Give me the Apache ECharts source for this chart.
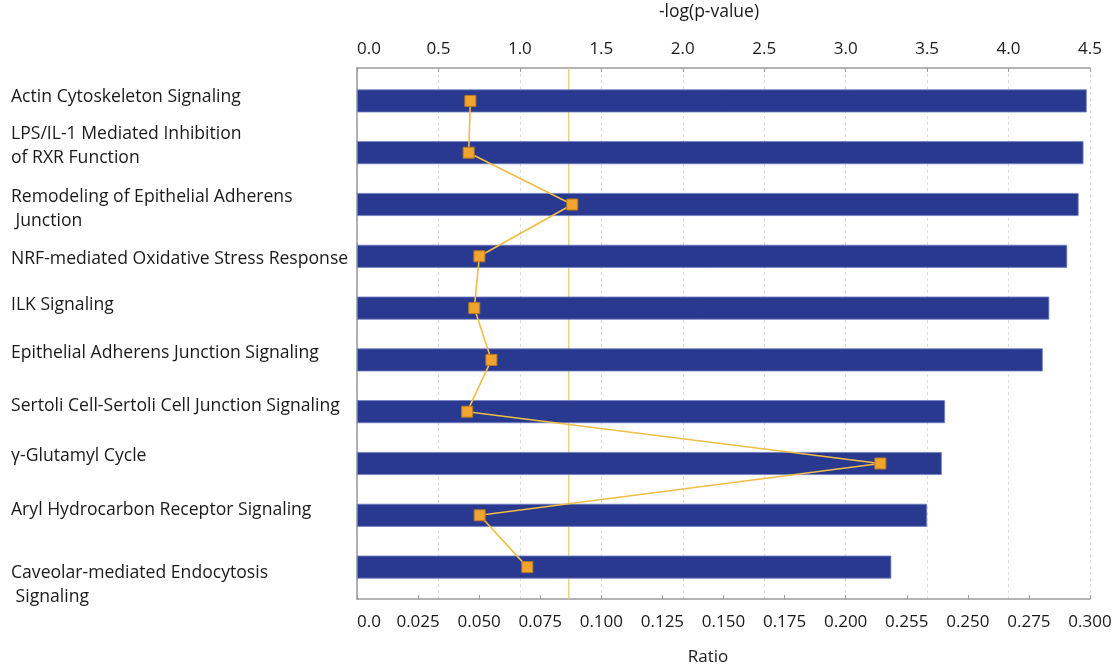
<!DOCTYPE html>
<html>
<head>
<meta charset="utf-8">
<script src="https://cdn.jsdelivr.net/npm/echarts@6/dist/echarts.min.js"></script>
<style>
  html, body { margin: 0; padding: 0; background: #ffffff; }
  #chart { width: 1116px; height: 664px; }
</style>
</head>
<body>
<div id="chart"></div>
<script>
// ---- data ----
const categories = [
  'Actin Cytoskeleton Signaling',
  'LPS/IL-1 Mediated Inhibition\nof RXR Function',
  'Remodeling of Epithelial Adherens\n Junction',
  'NRF-mediated Oxidative Stress Response',
  'ILK Signaling',
  'Epithelial Adherens Junction Signaling',
  'Sertoli Cell-Sertoli Cell Junction Signaling',
  'γ-Glutamyl Cycle',
  'Aryl Hydrocarbon Receptor Signaling',
  'Caveolar-mediated Endocytosis\n Signaling'
];
const negLogP = [4.48, 4.46, 4.43, 4.36, 4.25, 4.21, 3.61, 3.59, 3.50, 3.28];
const ratio = [0.0464, 0.0457, 0.0881, 0.0501, 0.0480, 0.0550, 0.0451, 0.2142, 0.0502, 0.0697];
const threshold = 1.3;
const topTicks = ['0.0','0.5','1.0','1.5','2.0','2.5','3.0','3.5','4.0','4.5'];
const ratioTicks = ['0.0','0.025','0.050','0.075','0.100','0.125','0.150','0.175','0.200','0.255','0.250','0.275','0.300'];

// ---- label vertical nudges (style only, px; negative = up) ----
const labelShift = [-4, -6.5, 4.5, 3, -3, -7, -6, -8, -5, 18];

const FONT = 'Open Sans';
const TXT = '#1a1a1a';
const AXIS = '#9a9a9a';
const LABEL_SIZE = 17.6;

const rich = { t: { fontSize: LABEL_SIZE, lineHeight: 24, color: TXT, fontFamily: FONT } };
labelShift.forEach((s, i) => {
  const h = Math.max(1, Math.abs(s) * 2);
  rich['sp' + i] = { fontSize: 1, height: h, lineHeight: h };
});

const chart = echarts.init(document.getElementById('chart'), null, { renderer: 'canvas' });
chart.setOption({
  animation: false,
  backgroundColor: '#ffffff',
  textStyle: { fontFamily: FONT },
  grid: [
    { left: 357, right: 26, top: 75, bottom: 71, containLabel: false, outerBoundsMode: 'none' },
    { left: 357, right: 26, top: 68, bottom: 65, containLabel: false, outerBoundsMode: 'none' }
  ],
  graphic: [
    { type: 'text', x: 709, y: 3, style: { text: '-log(p-value)', fill: TXT, font: '17.5px "Open Sans"', textAlign: 'center' } },
    { type: 'text', x: 708, y: 649, style: { text: 'Ratio', fill: TXT, font: '17px "Open Sans"', textAlign: 'center' } }
  ],
  xAxis: [
    {
      type: 'value', gridIndex: 0, position: 'top', offset: 7,
      min: 0, max: 4.5, interval: 0.5,
      axisLine: { show: true, lineStyle: { color: AXIS, width: 1.5 } },
      axisTick: { show: true, inside: true, length: 4, lineStyle: { color: AXIS } },
      axisLabel: { color: TXT, fontSize: 17, fontFamily: FONT, margin: 10, alignMinLabel: 'left',
                   showMinLabel: true, showMaxLabel: true, hideOverlap: false,
                   formatter: (v, i) => topTicks[i] },
      splitLine: { show: false }
    },
    {
      type: 'value', gridIndex: 0, position: 'bottom', offset: 6,
      min: 0, max: 0.3, interval: 0.025,
      axisLine: { show: true, lineStyle: { color: AXIS, width: 1.5 } },
      axisTick: { show: true, inside: true, length: 4, lineStyle: { color: AXIS } },
      axisLabel: { color: TXT, fontSize: 17, fontFamily: FONT, margin: 15, alignMinLabel: 'left',
                   showMinLabel: true, showMaxLabel: true, hideOverlap: false,
                   formatter: (v, i) => ratioTicks[i] },
      splitLine: { show: false }
    },
    {
      type: 'value', gridIndex: 1, min: 0, max: 4.5, interval: 0.5,
      axisLine: { show: false }, axisTick: { show: false }, axisLabel: { show: false },
      splitLine: { show: true, lineStyle: { color: '#dcdcdc', type: [3, 3], width: 1 } }
    }
  ],
  yAxis: [
    {
      type: 'category', gridIndex: 0, inverse: true, data: categories,
      axisLine: { show: false }, axisTick: { show: false },
      axisLabel: {
        color: TXT, fontSize: LABEL_SIZE, fontFamily: FONT, align: 'left', margin: 346,
        verticalAlign: 'middle', interval: 0, hideOverlap: false,
        formatter: (v, i) => {
          const sp = '{sp' + i + '| }';
          const body = v.split('\n').map(line => '{t|' + line + '}').join('\n');
          return labelShift[i] < 0 ? body + '\n' + sp : sp + '\n' + body;
        },
        rich: rich
      }
    },
    {
      type: 'value', gridIndex: 1, min: 0, max: 1,
      axisLine: { show: true, lineStyle: { color: AXIS, width: 1.5 } },
      axisTick: { show: false }, axisLabel: { show: false }, splitLine: { show: false }
    }
  ],
  series: [
    {
      type: 'line', xAxisIndex: 2, yAxisIndex: 1, z: 1, silent: true,
      data: [[threshold, 0], [threshold, 1]], symbol: 'none',
      lineStyle: { color: '#efc56a', width: 1.2 }
    },
    {
      type: 'bar', xAxisIndex: 0, yAxisIndex: 0, z: 2,
      data: negLogP, barWidth: 23,
      itemStyle: { color: '#2a3990', borderColor: '#6e7fc0', borderWidth: 0.8 }
    },
    {
      type: 'line', xAxisIndex: 1, yAxisIndex: 0, z: 3,
      data: ratio, symbol: 'rect', symbolSize: 11,
      itemStyle: { color: '#f2a52e', borderColor: '#b97a1f', borderWidth: 1 },
      lineStyle: { color: '#f0bd45', width: 1.6 }
    }
  ]
});
</script>
</body>
</html>
